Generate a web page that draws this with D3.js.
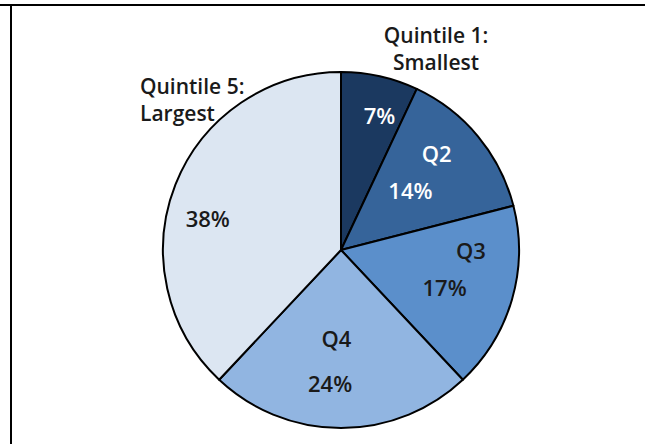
<!DOCTYPE html>
<html>
<head>
<meta charset="utf-8">
<script src="https://cdn.jsdelivr.net/npm/d3@7"></script>
<style>
  html, body { margin: 0; padding: 0; background: #fff; }
  svg { display: block; }
  text { font-family: "Open Sans", "DejaVu Sans", sans-serif; font-weight: 600; }
</style>
</head>
<body>
<svg id="chart" width="645" height="444"></svg>
<script>
// Share of total by size quintile
const names   = ["Quintile 1", "Q2", "Q3", "Q4", "Quintile 5"];
const shares  = [7, 14, 17, 24, 38];
const colours = ["#1b3960", "#36649a", "#5b8fcb", "#91b5e1", "#dce6f2"];
const inkOn   = ["#ffffff", "#ffffff", "#1a1a1a", "#1a1a1a", "#1a1a1a"];

const W = 645, H = 444;
const cx = 341, cy = 250, R = 178;

const svg = d3.select("#chart");

// frame lines
svg.append("line").attr("x1", 0).attr("x2", W).attr("y1", 5).attr("y2", 5)
  .attr("stroke", "#000").attr("stroke-width", 2);
svg.append("line").attr("x1", 11).attr("x2", 11).attr("y1", 5).attr("y2", H)
  .attr("stroke", "#000").attr("stroke-width", 2);

const pie = d3.pie().sort(null).value(d => d)(shares);
const arc = d3.arc().innerRadius(0).outerRadius(R);

const g = svg.append("g").attr("transform", `translate(${cx},${cy})`);

g.selectAll("path.slice").data(pie).join("path")
  .attr("class", "slice")
  .attr("d", arc)
  .attr("fill", (d, i) => colours[i])
  .attr("stroke", "#000")
  .attr("stroke-width", 2)
  .attr("stroke-linejoin", "round");

// polar placement of in-slice labels: [radius, angle offset (deg) from slice middle]
const placeName  = [null, [136, -5.7], [130, -16.2], [88, 3], null];
const placeValue = [[140, 3.4], [92, -1.4], [110, 3.4], [133, 4.7], [137, -8.1]];

function polar(d, p) {
  const mid = (d.startAngle + d.endAngle) / 2 + p[1] * Math.PI / 180;
  return [p[0] * Math.sin(mid), -p[0] * Math.cos(mid)];
}

pie.forEach((d, i) => {
  if (placeName[i]) {
    const [x, y] = polar(d, placeName[i]);
    g.append("text").attr("x", x).attr("y", y)
      .attr("text-anchor", "middle").attr("dominant-baseline", "central")
      .attr("font-size", 22).attr("fill", inkOn[i]).text(names[i]);
  }
  const [vx, vy] = polar(d, placeValue[i]);
  g.append("text").attr("x", vx).attr("y", vy)
    .attr("text-anchor", "middle").attr("dominant-baseline", "central")
    .attr("font-size", 22).attr("fill", inkOn[i]).text(d3.format("d")(shares[i]) + "%");
});

// outside labels for the smallest and largest quintiles
const outside = [
  { lines: ["Quintile 1:", "Smallest"], x: 436, y: 35 },
  { lines: ["Quintile 5:", "Largest"], x: 140, y: 86, anchor: "start" }
];
outside.forEach(o => {
  const t = svg.append("text")
    .attr("text-anchor", o.anchor || "middle")
    .attr("font-size", 21).attr("fill", "#1a1a1a");
  o.lines.forEach((s, k) => {
    t.append("tspan").attr("x", o.x).attr("y", o.y + k * 27)
      .attr("dominant-baseline", "central").text(s);
  });
});
</script>
</body>
</html>
